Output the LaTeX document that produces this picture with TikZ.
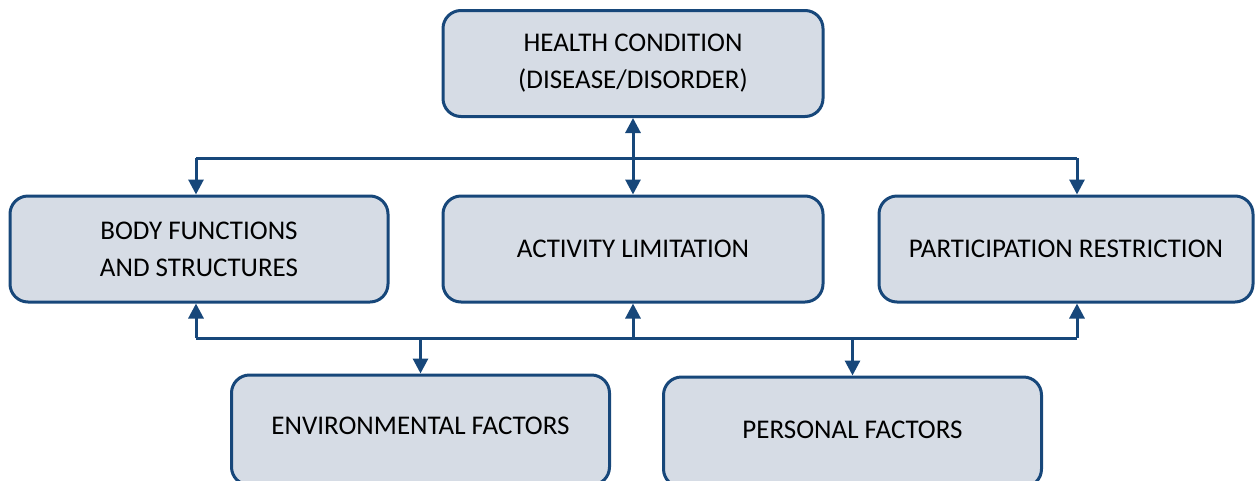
\documentclass[tikz,border=0pt]{standalone}
\usepackage{fontspec}
\setmainfont{Carlito}
\usepackage{xcolor}
\usetikzlibrary{arrows.meta, positioning, calc}
\definecolor{icfblue}{HTML}{17477A}
\definecolor{icffill}{HTML}{D6DCE5}

\begin{document}
\begin{tikzpicture}[
    x=1pt, y=-1pt,
    every node/.style={align=center, font=\fontsize{27}{37}\selectfont},
    box/.style={draw=icfblue, fill=icffill, line width=3pt, rounded corners=18pt, minimum width=378pt, minimum height=106pt, inner sep=0pt},
    link/.style={draw=icfblue, line width=3pt},
    arrow/.style={link, -{Triangle[width=15pt,length=15pt]}}
]
    \useasboundingbox (0,0) rectangle (1255,480);

    % Top
    \node[box, minimum width=380pt] (health) at (633,63.5) {HEALTH CONDITION\\(DISEASE/DISORDER)};

    % Middle row
    \node[box] (body) at (199,249) {BODY FUNCTIONS\\AND STRUCTURES};
    \node[box, minimum width=380pt] (activity) at (633,249) {ACTIVITY LIMITATION};
    \node[box, minimum width=374pt] (participation) at (1066,249) {PARTICIPATION RESTRICTION};

    % Bottom row (cut off by the page edge)
    \node[box, minimum height=110pt, text depth=8pt] (env) at (420.5,430) {ENVIRONMENTAL FACTORS};
    \node[box, minimum height=110pt, text depth=4pt] (personal) at (852.5,432) {PERSONAL FACTORS};

    % Buses
    \coordinate (upL) at (196,158);
    \coordinate (upR) at (1077,158);
    \coordinate (loL) at (196,338);
    \coordinate (loR) at (1077,338);
    \draw[link] (upL) -- (upR);
    \draw[link] (loL) -- (loR);

    % Connections
    \draw[link, {Triangle[width=15pt,length=15pt]}-{Triangle[width=15pt,length=15pt]}] (health.south) -- (activity.north);
    \foreach \c/\n in {upL/body, upR/participation} {
        \draw[arrow] (\c) -- (\c |- \n.north);
    }
    \foreach \c/\n in {loL/body, loR/participation} {
        \draw[arrow] (\c) -- (\c |- \n.south);
    }
    \draw[arrow] (loL -| activity.south) -- (activity.south);
    \draw[arrow] (loL -| env.north) -- (env.north);
    \draw[arrow] (loL -| personal.north) -- (personal.north);
\end{tikzpicture}
\end{document}
